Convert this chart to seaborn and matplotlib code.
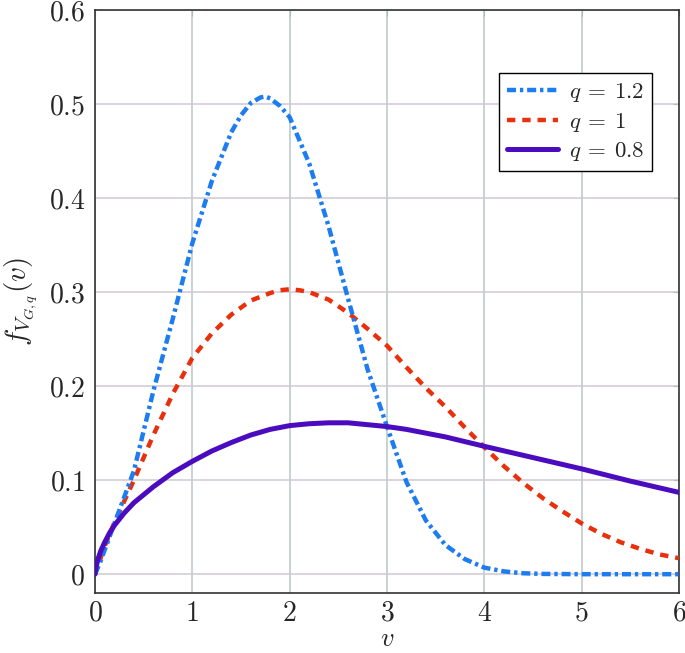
import matplotlib
matplotlib.use("Agg")
import matplotlib.pyplot as plt
import seaborn as sns
import pandas as pd
from matplotlib.ticker import FuncFormatter

# ---- data ----
v_q12 = [0, 0.05, 0.2, 0.4, 0.6, 0.8, 1.0, 1.2, 1.4, 1.5, 1.6, 1.7, 1.75, 1.8, 1.9, 2.0, 2.2, 2.4, 2.6, 2.8,
         3.0, 3.2, 3.4, 3.6, 3.8, 4.0, 4.2, 4.4, 4.6, 5.0, 5.5, 6.0]
f_q12 = [0, 0.012, 0.054, 0.11, 0.195, 0.272, 0.352, 0.418, 0.47, 0.488, 0.501, 0.507, 0.508, 0.506, 0.498,
         0.486, 0.437, 0.37, 0.293, 0.218, 0.157, 0.098, 0.057, 0.031, 0.016, 0.007, 0.003, 0.001, 0.0003,
         0, 0, 0]

v_q1 = [0, 0.1, 0.2, 0.4, 0.6, 0.8, 1.0, 1.2, 1.4, 1.6, 1.8, 1.9, 2.0, 2.1, 2.2, 2.4, 2.6, 2.8, 3.0, 3.2,
        3.4, 3.6, 3.8, 4.0, 4.2, 4.4, 4.6, 4.8, 5.0, 5.2, 5.4, 5.6, 5.8, 6.0]
f_q1 = [0, 0.03, 0.055, 0.1, 0.148, 0.192, 0.23, 0.256, 0.276, 0.291, 0.299, 0.302, 0.303, 0.302, 0.3,
        0.292, 0.278, 0.261, 0.243, 0.22, 0.198, 0.178, 0.156, 0.135, 0.115, 0.097, 0.081, 0.067, 0.054,
        0.043, 0.034, 0.027, 0.021, 0.017]

v_q08 = [0, 0.01, 0.03, 0.06, 0.1, 0.15, 0.2, 0.3, 0.4, 0.6, 0.8, 1.0, 1.2, 1.4, 1.6, 1.8, 2.0, 2.2, 2.4,
         2.6, 2.8, 3.0, 3.2, 3.4, 3.6, 3.8, 4.0, 4.5, 5.0, 5.5, 6.0]
f_q08 = [0, 0.007, 0.016, 0.025, 0.034, 0.044, 0.052, 0.065, 0.076, 0.093, 0.108, 0.12, 0.131, 0.14,
         0.148, 0.154, 0.158, 0.16, 0.161, 0.161, 0.159, 0.157, 0.154, 0.15, 0.146, 0.141, 0.136, 0.124,
         0.112, 0.099, 0.087]

labels = [r"$q\:=\:1.2$", r"$q\:=\:1$", r"$q\:=\:0.8$"]
x_ticks = [0, 1, 2, 3, 4, 5, 6]
y_ticks = [0, 0.1, 0.2, 0.3, 0.4, 0.5, 0.6]

sns.set_style("white")
plt.rcParams["mathtext.fontset"] = "cm"
plt.rcParams["font.family"] = ["DejaVu Serif"]
plt.rcParams["lines.scale_dashes"] = False

fig = plt.figure(figsize=(6.85, 6.53), dpi=100)
ax = fig.add_axes([95 / 685, 1 - 593 / 653, 584 / 685, 583 / 653])

df1 = pd.DataFrame({"v": v_q12, "f": f_q12})
df2 = pd.DataFrame({"v": v_q1, "f": f_q1})
df3 = pd.DataFrame({"v": v_q08, "f": f_q08})

sns.lineplot(data=df1, x="v", y="f", ax=ax, color="#1C7CF0", linewidth=3.2, label=labels[0], zorder=5)
ax.lines[-1].set_dashes([6.5, 2.8, 2.4, 2.8])
sns.lineplot(data=df2, x="v", y="f", ax=ax, color="#E8300C", linewidth=3.2, label=labels[1], zorder=4)
ax.lines[-1].set_dashes([6.0, 5.0])
sns.lineplot(data=df3, x="v", y="f", ax=ax, color="#4A0CBE", linewidth=3.6, label=labels[2], zorder=6)
for ln in ax.lines:
    ln.set_solid_joinstyle("round")
    ln.set_dash_capstyle("butt")

ax.set_xlim(0, 6)
ax.set_ylim(-0.02, 0.6)
ax.set_xticks(x_ticks)
ax.set_yticks(y_ticks)

def fmt(val, pos):
    return "$" + ("%g" % val) + "$"

ax.xaxis.set_major_formatter(FuncFormatter(fmt))
ax.yaxis.set_major_formatter(FuncFormatter(fmt))

for xv in x_ticks:
    ax.axvline(xv, color="#B9C6C8", linewidth=1.1, zorder=1)
for yv in y_ticks:
    ax.axhline(yv, color="#CFC8D2", linewidth=1.1, zorder=1)

ax.tick_params(axis="both", which="both", direction="in", length=4, width=0.8, color="#8A9494",
               labelsize=20, top=True, right=True, pad=7)
ax.tick_params(axis="x", pad=5)
for sp in ax.spines.values():
    sp.set_color("#333333")
    sp.set_linewidth(1.2)

ax.set_xlabel("$v$", fontsize=19, labelpad=-1)
ax.set_ylabel("$f_{V_{G,q}}(v)$", fontsize=21, labelpad=6)

leg = ax.legend(loc="upper left", bbox_to_anchor=(0.692, 0.8925), fontsize=16.5, frameon=True,
                fancybox=False, edgecolor="black", framealpha=1, handlelength=2.2, borderpad=0.35,
                labelspacing=0.3, handletextpad=0.5, borderaxespad=0)
leg.get_frame().set_linewidth(1.0)

fig.savefig("out.png", dpi=100)
